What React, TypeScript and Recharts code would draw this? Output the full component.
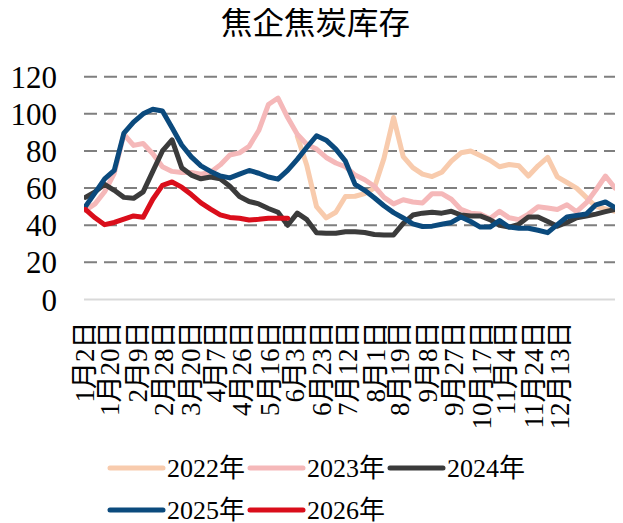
import React from 'react';
import { LineChart, Line, XAxis, YAxis, CartesianGrid, Legend } from 'recharts';

const FONT = "'Liberation Serif', 'Times New Roman', 'Noto Sans CJK SC', serif";

// day-of-year of each weekly observation
const days = [2, 9, 16, 23, 30, 37, 44, 51, 58, 65, 72, 79, 86, 93, 100, 107, 114, 121, 128, 135, 142, 149, 156, 163, 170, 177, 184, 191, 198, 205, 212, 219, 226, 233, 240, 247, 254, 261, 268, 275, 282, 289, 296, 303, 310, 317, 324, 331, 338, 345, 352, 359, 366, 373, 380, 387];

// x-axis tick positions (day of year) and labels
const tickDays = [2, 20, 40, 59, 79, 97, 116, 136, 154, 174, 193, 213, 231, 251, 270, 290, 308, 328, 347];
const tickLabels = ['1月2日', '1月20日', '2月9日', '2月28日', '3月20日', '4月7日', '4月26日', '5月16日', '6月3日', '6月23日', '7月12日', '8月1日', '8月19日', '9月8日', '9月27日', '10月17日', '11月4日', '11月24日', '12月13日'];

const yTicks = [0, 20, 40, 60, 80, 100, 120];
const gridValues = [20, 40, 60, 80, 100, 120];

const s2022 = [
  null, null, null, null, null, null, null, null, null, null,
  null, null, null, null, null, null, null, null, null, null,
  null, null, 88, 72, 50, 44, 47, 55.5, 55.6, 57,
  60, 76, 98, 77, 71, 67.5, 66.2, 68.5, 74.5, 79,
  80, 77.5, 75, 71.5, 72.7, 72, 66.5, 72, 76.5, 66,
  63, 60, 55, 50, 48.8, 47.5,
];
const s2023 = [
  48, 51.5, 58, 68, 89, 83, 84, 78.5, 71.5, 69,
  68.4, 68.4, 67.5, 68.5, 72.5, 77.8, 79, 82.5, 91, 105,
  108.5, 98, 89, 83.5, 81, 76.5, 73.5, 71.5, 67, 64.5,
  61, 55, 51.5, 53.7, 52.5, 52, 57, 57, 54, 48.5,
  46.5, 46, 43.5, 47.5, 44, 43, 46, 50, 49.3, 48.5,
  51, 47.3, 52, 59, 66.5, 60,
];
const s2024 = [
  55, 58, 62, 58.8, 55, 54.5, 58, 69, 80, 86,
  71, 67, 65, 66, 65, 61, 55.5, 52.8, 51.5, 49,
  47, 40, 46.5, 43, 36, 35.7, 35.7, 36.5, 36.5, 36.1,
  35, 34.8, 34.8, 41, 45.5, 46.5, 47, 46.5, 47.5, 45.5,
  45, 45, 43, 40, 39, 40.5, 44.5, 44.5, 42, 39.5,
  41.5, 44, 45, 46, 47.3, 48.5,
];
const s2025 = [
  50, 57.4, 65, 69.5, 89.6, 95.5, 100, 102.5, 101.5, 92.5,
  83.2, 76.8, 72, 69, 66.5, 65.5, 67.5, 69.5, 68, 66,
  64.8, 69.5, 75.5, 82, 88.2, 85.8, 81, 74.5, 62, 58.8,
  54.8, 50.5, 46.8, 43.9, 40.7, 39.3, 39.5, 40.5, 41.5, 44.5,
  42, 39, 39, 42.5, 39, 38.4, 38.4, 37.3, 36, 40.3,
  44.5, 45.3, 46, 51, 52.5, 49.5,
];
const s2026 = [
  48.5, 44, 40.3, 41.5, 43.3, 45, 44.3, 54, 61.5, 63.3,
  60.5, 56.5, 52, 48.7, 45.6, 44.2, 43.8, 42.8, 43.2, 43.8,
  43.8, 43.8,
];

const seriesNames = ['2022年', '2023年', '2024年', '2025年', '2026年'];
const seriesKeys = ['y2022', 'y2023', 'y2024', 'y2025', 'y2026'];
const seriesColors = ['#F8CBAD', '#F5B8B9', '#3B3B3B', '#0B4A7D', '#DA0E1B'];
const seriesValues = [s2022, s2023, s2024, s2025, s2026];

const data = days.map((d, i) => {
  const row: Record<string, number | null> = { day: d };
  seriesKeys.forEach((k, j) => {
    const v = seriesValues[j][i];
    row[k] = v === undefined ? null : v;
  });
  return row;
});

const XTick = (props: any) => {
  const { x, y, payload } = props;
  const idx = tickDays.indexOf(payload.value);
  return (
    <text
      x={x}
      y={y}
      transform={`rotate(-90, ${x}, ${y})`}
      textAnchor="end"
      dominantBaseline="central"
      fontSize={27}
      fontFamily={FONT}
      fill="#000"
    >
      {idx >= 0 ? tickLabels[idx] : ''}
    </text>
  );
};

const LegendContent = () => (
  <div style={{ width: 615, height: 92 }}>
    <svg width={615} height={92} style={{ overflow: 'visible', display: 'block' }}>
      {seriesNames.map((name, i) => {
        const col = i % 3;
        const row = Math.floor(i / 3);
        const x = 102 + col * 140;
        const y = 37 + row * 42;
        return (
          <g key={name}>
            <line x1={x} y1={y} x2={x + 53} y2={y} stroke={seriesColors[i]} strokeWidth={5} strokeLinecap="round" />
            <text x={x + 57} y={y} dominantBaseline="central" fontSize={26} fontFamily={FONT} fill="#000">
              {name}
            </text>
          </g>
        );
      })}
    </svg>
  </div>
);

export default function App() {
  return (
    <div style={{ position: 'relative', width: 615, height: 515 }}>
      <style>{'html, body { overflow: hidden; }'}</style>
      <div
        style={{
          position: 'absolute',
          top: 0,
          left: 0,
          width: 615,
          textAlign: 'center',
          fontSize: 31.5,
          lineHeight: '31px',
          fontFamily: FONT,
          color: '#000',
          zIndex: 1,
        }}
      >
        焦企焦炭库存
      </div>
      <LineChart
        width={615}
        height={515}
        data={data}
        margin={{ top: 68.7, right: 1, bottom: 0, left: 0 }}
      >
        <CartesianGrid
          vertical={false}
          horizontalValues={gridValues}
          stroke="#7F7F7F"
          strokeDasharray="13 7"
          strokeWidth={2}
        />
        <XAxis
          dataKey="day"
          type="number"
          domain={[1, 392]}
          ticks={tickDays}
          interval={0}
          tick={<XTick />}
          tickLine={false}
          tickSize={0}
          tickMargin={22}
          axisLine={{ stroke: '#D9D9D9', strokeWidth: 2 }}
          height={131.5}
          allowDataOverflow
        />
        <YAxis
          domain={[0, 120]}
          ticks={yTicks}
          interval={0}
          width={76}
          axisLine={false}
          tickLine={false}
          tickSize={0}
          tickMargin={27}
          tick={{ fontSize: 31, fontFamily: FONT, fill: '#000' }}
        />
        <Legend
          verticalAlign="bottom"
          content={<LegendContent />}
          wrapperStyle={{ left: 0, bottom: 0, width: 615, height: 92 }}
        />
        {seriesKeys.map((k, j) => (
          <Line
            key={k}
            type="linear"
            dataKey={k}
            name={seriesNames[j]}
            stroke={seriesColors[j]}
            strokeWidth={5}
            dot={false}
            activeDot={false}
            strokeLinejoin="round"
            strokeLinecap="round"
            connectNulls={false}
            isAnimationActive={false}
          />
        ))}
      </LineChart>
    </div>
  );
}
